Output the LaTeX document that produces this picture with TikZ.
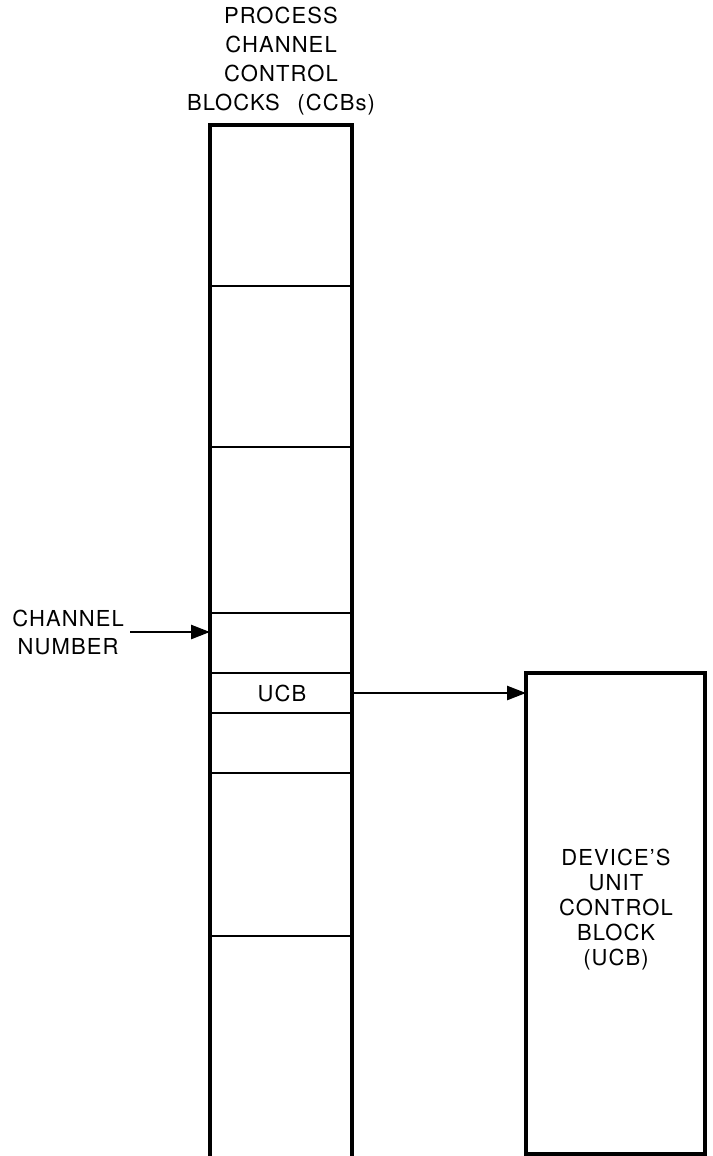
\documentclass[tikz,border=0pt]{standalone}
\usepackage{fontspec}
\setmainfont{TeX Gyre Heros}[LetterSpace=5]
\usetikzlibrary{arrows.meta}
\begin{document}
\begin{tikzpicture}[x=1pt,y=-1pt,
  box/.style={line width=3.6pt},
  divider/.style={line width=2.6pt},
  conn/.style={line width=2.6pt,-{Triangle[length=19pt,width=14pt]}},
  lbl/.style={font=\fontsize{22}{29}\selectfont,align=center,inner sep=0pt},
  lbl2/.style={font=\fontsize{22}{25}\selectfont,align=center,inner sep=0pt}]
\useasboundingbox (0,0) rectangle (712,1156);
% CCB column
\draw[box] (210,1156) -- (210,125) -- (352,125) -- (352,1156);
\foreach \yy in {286,447,613,673,713,773,936}
  \draw[divider] (210,\yy) -- (352,\yy);
\coordinate (chanin) at (210,632);
\coordinate (ucbout) at (352,693);
\node[lbl] (title) at (281,61) {PROCESS\\CHANNEL\\CONTROL\\BLOCKS\hspace{0.8em}(CCBs)};
\node[lbl] (ucb) at (282,693) {UCB};
\node[lbl,font=\fontsize{22}{28}\selectfont,anchor=east] (chan) at (124,632) {CHANNEL\\NUMBER};
% device UCB
\draw[box] (526,673) rectangle (705,1154);
\coordinate (devin) at (526,693);
\node[lbl2] (dev) at (616,910) {DEVICE'S\\UNIT\\CONTROL\\BLOCK\\(UCB)};
\draw[conn] (130,632) -- (chanin);
\draw[conn] (ucbout) -- (devin);
\end{tikzpicture}
\end{document}
